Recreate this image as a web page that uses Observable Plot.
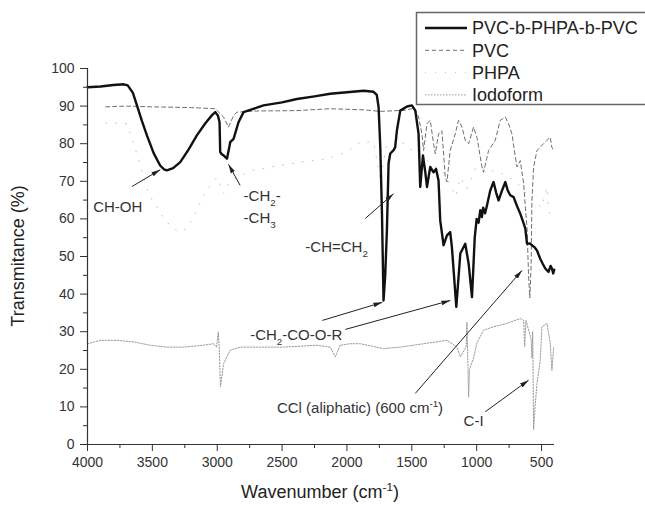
<!DOCTYPE html>
<html>
<head>
<meta charset="utf-8">
<script src="https://cdn.jsdelivr.net/npm/d3@7"></script>
<script src="https://cdn.jsdelivr.net/npm/@observablehq/plot@0.6"></script>
<style>
  body { margin: 0; background: #fff; }
  #chart svg { display: block; }
</style>
</head>
<body>
<div id="chart"></div>
<script>
// FTIR spectra: [wavenumber (cm-1), transmittance (%)]
const seriesNames = ["PVC-b-PHPA-b-PVC", "PVC", "PHPA", "Iodoform"];

const copolymer = [
  [4000,95.0],[3900,95.2],[3800,95.6],[3720,95.8],[3690,95.5],[3650,93.5],[3619,90.2],[3580,86.0],
  [3542,82.2],[3490,77.5],[3440,74.2],[3410,73.2],[3388,72.9],[3340,73.5],[3285,75.1],[3220,78.5],
  [3157,82.2],[3090,85.5],[3040,87.6],[3015,88.4],[2995,87.5],[2982,85.7],[2977,77.8],[2965,77.2],
  [2951,76.9],[2925,76.0],[2910,78.5],[2900,80.4],[2874,81.3],[2855,83.5],[2836,85.7],[2797,88.4],
  [2700,89.5],[2643,90.2],[2500,91.0],[2386,91.9],[2250,92.6],[2129,93.3],[2000,93.7],[1871,94.1],
  [1795,93.8],[1770,93.0],[1756,89.7],[1743,79.1],[1730,61.5],[1718,38.3],[1705,45.0],[1692,57.0],
  [1679,74.8],[1666,77.4],[1640,78.3],[1628,79.1],[1615,83.5],[1589,88.8],[1537,89.9],[1499,90.2],
  [1473,88.8],[1448,82.7],[1435,68.5],[1414,76.9],[1396,72.4],[1383,68.5],[1358,73.8],[1332,72.4],
  [1313,73.3],[1294,70.2],[1281,59.6],[1255,53.0],[1229,55.6],[1204,56.5],[1191,52.5],[1157,36.6],
  [1126,50.8],[1088,53.4],[1062,48.1],[1036,39.2],[1015,55.0],[1000,60.0],[985,59.0],[972,62.3],
  [960,60.5],[950,63.0],[935,61.5],[921,63.5],[895,67.6],[870,69.8],[850,67.0],[831,64.9],
  [805,67.5],[779,69.8],[760,67.5],[741,66.3],[715,65.8],[690,63.5],[664,61.4],[640,59.0],
  [625,57.4],[612,53.4],[590,53.5],[574,53.0],[555,52.5],[535,51.6],[510,49.4],[490,48.0],
  [471,46.8],[446,45.9],[430,47.5],[420,46.8],[410,45.5],[402,46.5]
];

const pvc = [
  [3860,89.8],[3700,90.0],[3500,89.8],[3200,89.6],[3015,89.3],[2951,87.1],[2913,84.4],[2874,87.5],
  [2848,88.4],[2694,88.7],[2386,88.8],[2129,89.3],[1871,89.0],[1743,88.6],[1550,88.9],[1480,89.5],
  [1448,87.1],[1422,82.6],[1409,78.2],[1383,85.3],[1358,86.2],[1332,80.0],[1319,77.3],[1294,82.6],
  [1268,83.5],[1242,71.1],[1229,69.8],[1204,78.2],[1165,82.6],[1140,86.2],[1113,84.4],[1088,80.9],
  [1062,80.0],[1024,84.4],[998,81.7],[959,73.8],[947,72.4],[908,78.2],[857,80.9],[818,86.2],
  [779,87.1],[754,85.3],[728,82.6],[702,76.5],[689,73.8],[664,75.5],[638,69.4],[625,63.2],
  [612,57.8],[600,45.0],[590,39.0],[580,48.0],[574,64.9],[561,73.8],[535,78.2],[484,80.0],
  [458,80.9],[433,81.7],[420,79.0],[407,78.2]
];

const phpa = [
  [3860,85.5],[3800,85.5],[3696,85.3],[3607,76.0],[3530,66.7],[3400,59.5],[3300,56.5],[3234,57.4],
  [3170,61.4],[3093,67.1],[3002,71.1],[2951,66.7],[2900,70.0],[2732,72.9],[2514,74.2],[2360,75.1],
  [2154,76.0],[2000,77.8],[1898,80.4],[1794,80.4],[1740,70.0],[1700,79.0],[1600,81.0],[1450,77.0],
  [1400,76.0],[1250,72.0],[1160,66.0],[1126,71.0],[1075,68.0],[1000,74.0],[900,73.0],[800,72.0],
  [700,70.0],[600,66.0],[500,63.0],[458,68.5],[446,62.3],[420,60.0]
];

const iodoform = [
  [4000,26.8],[3902,27.7],[3773,27.7],[3645,27.3],[3517,26.4],[3388,25.9],[3260,25.9],[3106,26.4],
  [3028,26.8],[3005,25.9],[2992,29.9],[2985,26.0],[2975,15.3],[2951,21.5],[2900,25.1],[2823,25.9],
  [2489,25.9],[2231,26.4],[2129,25.9],[2090,23.3],[2052,26.4],[1975,26.8],[1898,26.8],[1718,25.5],
  [1589,25.9],[1409,26.8],[1229,27.7],[1152,25.9],[1126,23.3],[1080,26.0],[1075,32.5],[1070,25.0],
  [1062,12.6],[1055,20.0],[1024,23.0],[998,27.0],[947,30.4],[870,31.3],[767,32.2],[664,33.5],
  [638,33.0],[630,26.0],[620,33.0],[580,28.0],[574,23.0],[568,30.0],[561,4.0],[550,10.0],
  [535,16.2],[510,22.4],[497,31.3],[458,32.2],[433,27.0],[420,19.7],[407,25.9]
];

// Band assignments: label anchor and arrow (tail -> head) in data units
const bandLabels = [
  {wn: 3956, t: 63.0, text: "CH-OH"},
  {wn: 2797, t: 66.0, text: "-CH_{2}-"},
  {wn: 2797, t: 60.1, text: "-CH_{3}"},
  {wn: 2321, t: 52.4, text: "-CH=CH_{2}"},
  {wn: 2746, t: 29.0, text: "-CH_{2}-CO-O-R"},
  {wn: 2540, t: 9.6,  text: "CCl (aliphatic) (600 cm^{-1})"},
  {wn: 1101, t: 6.2,  text: "C-I"}
];
const bandArrows = [
  {x1: 3658, y1: 68.6, x2: 3439, y2: 73.1},
  {x1: 2823, y1: 68.9, x2: 2913, y2: 74.5},
  {x1: 1859, y1: 60.1, x2: 1641, y2: 66.7},
  {x1: 2190, y1: 33.0, x2: 1727, y2: 37.8},
  {x1: 2013, y1: 30.6, x2: 1203, y2: 38.3},
  {x1: 1473, y1: 13.6, x2: 651,  y2: 46.3},
  {x1: 934,  y1: 8.7,  x2: 600,  y2: 17.1}
];

const xMajor = d3.range(500, 4001, 500);
const xMinor = d3.range(750, 4000, 500);
const yMajor = d3.range(0, 101, 10);
const yMinor = d3.range(5, 100, 10);

const rows = (pairs) => pairs.map(([wn, t]) => ({wn, t}));

const styles = [
  {stroke: "#111", strokeWidth: 2.4, strokeDasharray: null},
  {stroke: "#707070", strokeWidth: 1, strokeDasharray: "4,3"},
  {stroke: "#c4c4c4", strokeWidth: 1, strokeDasharray: "1,9"},
  {stroke: "#9a9a9a", strokeWidth: 1, strokeDasharray: "1.5,1.5"}
];
const spectra = [copolymer, pvc, phpa, iodoform];

const FONT = "'Liberation Sans', Arial, Helvetica, sans-serif";
const plain = d => String(d);

const plot = Plot.plot({
  width: 645,
  height: 505,
  marginLeft: 87,
  marginRight: 91,
  marginTop: 68,
  marginBottom: 61,
  style: {fontFamily: FONT, fontSize: "14px", color: "#222", background: "#fff"},
  x: {domain: [4000, 400]},
  y: {domain: [0, 100]},
  marks: [
    // spectra, drawn back to front
    ...[3, 2, 1, 0].map(i => Plot.line(rows(spectra[i]), {
      x: "wn", y: "t",
      stroke: styles[i].stroke,
      strokeWidth: styles[i].strokeWidth,
      strokeDasharray: styles[i].strokeDasharray,
      strokeLinejoin: "round"
    })),
    // axes
    Plot.ruleY([0], {stroke: "#333", strokeWidth: 1.2}),
    Plot.ruleX([4000], {y1: 0, y2: 100, stroke: "#333", strokeWidth: 1.2}),
    Plot.axisX(xMajor, {tickSize: 7, tickPadding: 6, tickFormat: plain, label: null, stroke: "#333", fill: "#333"}),
    Plot.axisX(xMinor, {tickSize: 4, tickFormat: () => "", label: null, stroke: "#333"}),
    Plot.axisY(yMajor, {tickSize: 7, tickPadding: 6, tickFormat: plain, label: null, stroke: "#333", fill: "#333"}),
    Plot.axisY(yMinor, {tickSize: 4, tickFormat: () => "", label: null, stroke: "#333"}),
    // band assignments
    Plot.link(bandArrows, {x1: "x1", y1: "y1", x2: "x2", y2: "y2", stroke: "#222", strokeWidth: 1, markerEnd: "arrow"}),
    Plot.text(bandLabels, {x: "wn", y: "t", text: "text", textAnchor: "start", fontSize: 15, fill: "#333", className: "band-label"})
  ]
});

const svg = d3.select(plot);

// filled arrowheads
svg.selectAll("marker").each(function() {
  const m = d3.select(this);
  m.attr("viewBox", "-5 -5 10 10").attr("refX", 5).attr("markerWidth", 9).attr("markerHeight", 9)
   .attr("markerUnits", "userSpaceOnUse").attr("fill", "#222").attr("stroke", "none");
  m.selectAll("*").remove();
  m.append("path").attr("d", "M-5,-2.6L5,0L-5,2.6Z");
});

// write "_{..}" as subscript and "^{..}" as superscript
function richText(node, raw, size) {
  node.textContent = "";
  const parts = raw.split(/([_^]\{[^}]*\})/).filter(s => s.length);
  let shift = 0;
  for (const p of parts) {
    const ts = d3.select(node).append("tspan");
    let dy = 0, body = p, small = false;
    if (p.startsWith("_{")) { dy = size * 0.3; body = p.slice(2, -1); small = true; }
    else if (p.startsWith("^{")) { dy = -size * 0.4; body = p.slice(2, -1); small = true; }
    ts.attr("dy", dy - shift).text(body);
    if (small) ts.attr("font-size", size * 0.65);
    shift = dy;
  }
}
svg.selectAll("g.band-label text").each(function() {
  const raw = this.textContent;
  if (/[_^]\{/.test(raw)) richText(this, raw, 15);
});

// axis titles
svg.append("text")
  .attr("transform", "translate(24,256) rotate(-90)")
  .attr("text-anchor", "middle")
  .attr("font-family", FONT).attr("font-size", 18).attr("fill", "#222")
  .text("Transmitance (%)");
const xt = svg.append("text")
  .attr("x", 320).attr("y", 498)
  .attr("text-anchor", "middle")
  .attr("font-family", FONT).attr("font-size", 18).attr("fill", "#222");
richText(xt.node(), "Wavenumber (cm^{-1})", 18);

// legend
const lg = svg.append("g")
  .attr("font-family", FONT).attr("font-size", 18).attr("fill", "#222")
  .attr("text-anchor", "start");
lg.append("rect").attr("x", 416.5).attr("y", 12.5).attr("width", 250).attr("height", 92)
  .attr("fill", "none").attr("stroke", "#666").attr("stroke-width", 1.5);
seriesNames.forEach((name, i) => {
  const cy = 28 + i * 22.3;
  const s = styles[i];
  lg.append("line").attr("x1", 425).attr("x2", 467).attr("y1", cy).attr("y2", cy)
    .attr("stroke", s.stroke).attr("stroke-width", s.strokeWidth)
    .attr("stroke-dasharray", s.strokeDasharray);
  lg.append("text").attr("x", 472).attr("y", cy).attr("dy", "0.35em").text(name);
});

document.getElementById("chart").append(plot);
</script>
</body>
</html>
